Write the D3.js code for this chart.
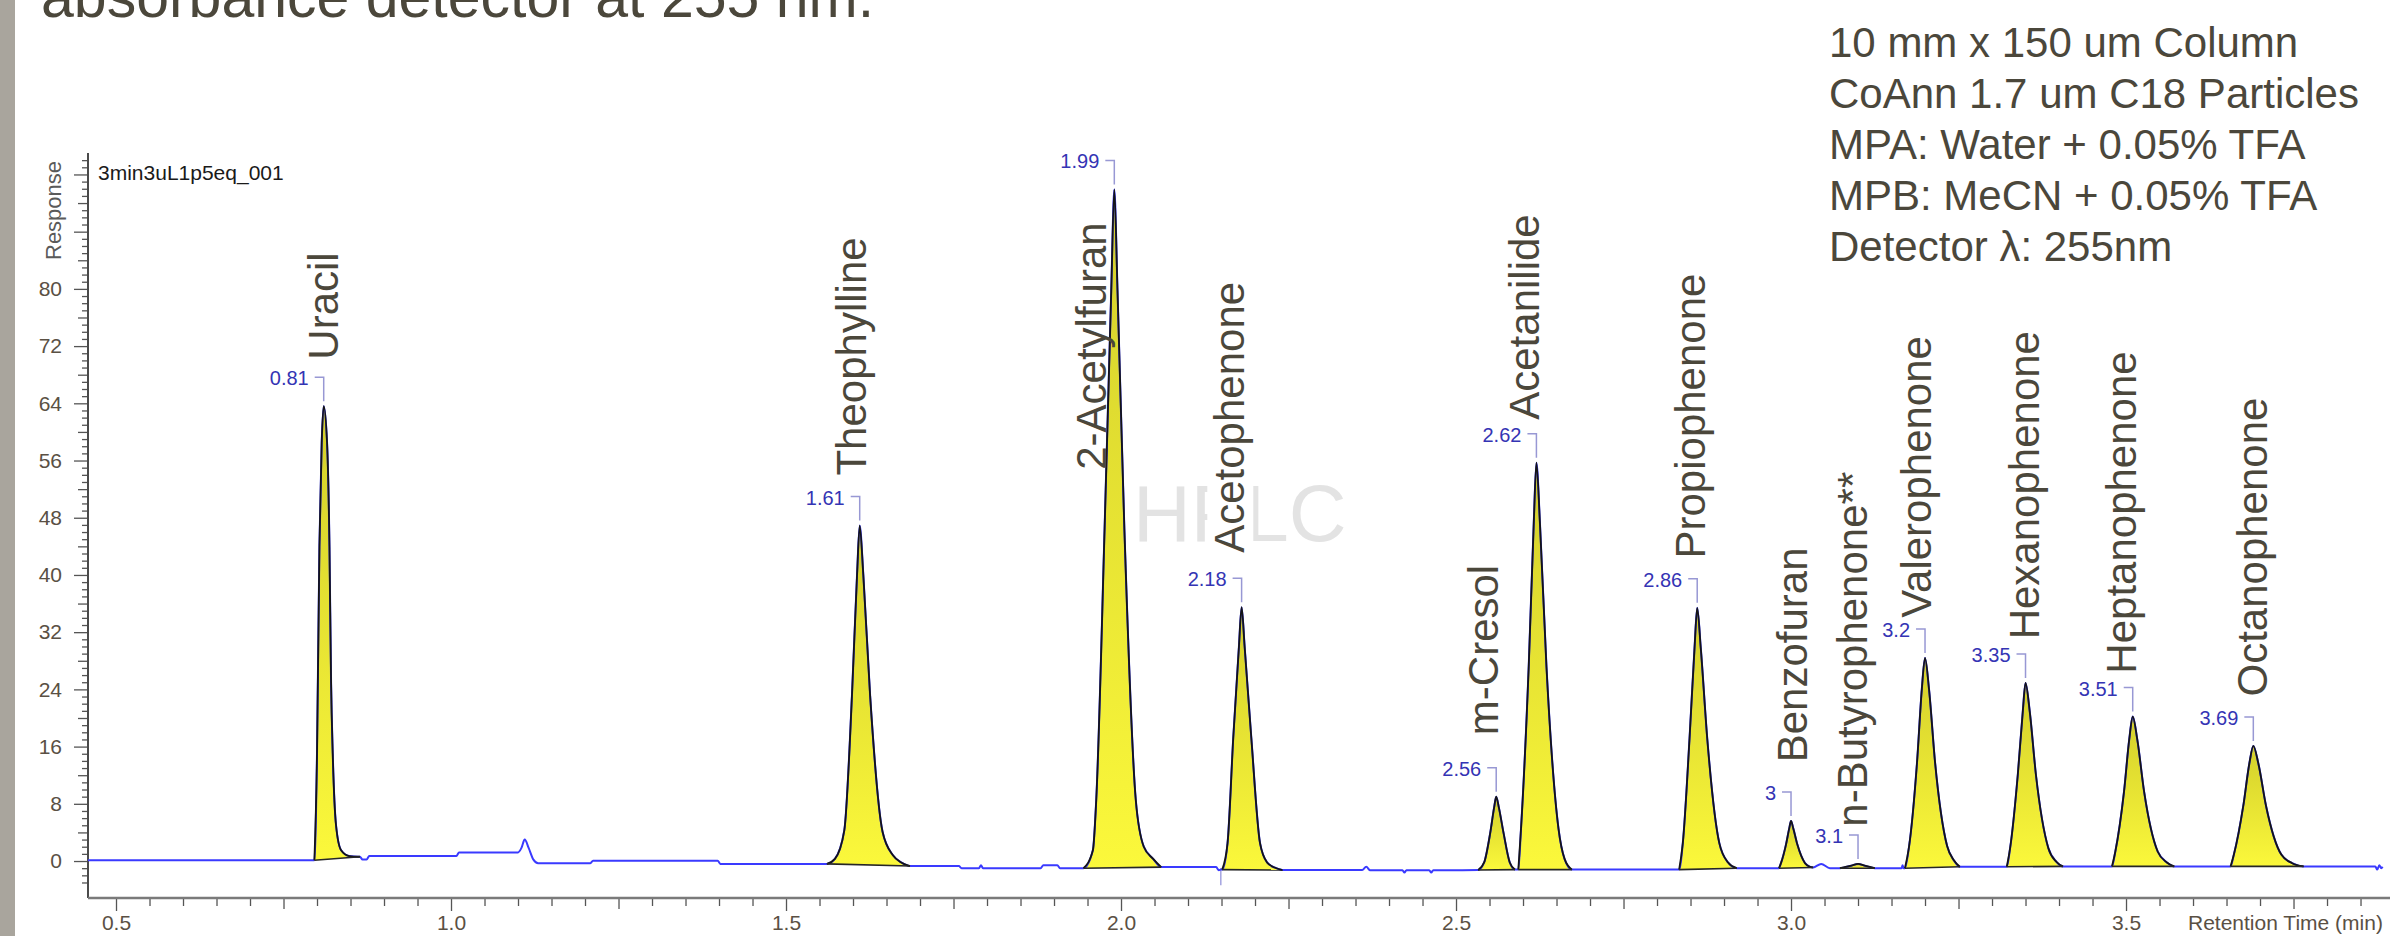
<!DOCTYPE html>
<html>
<head>
<meta charset="utf-8">
<script src="https://cdn.jsdelivr.net/npm/d3@7"></script>
<style>
  html, body { margin: 0; padding: 0; background: #ffffff; }
  svg { display: block; }
  text { font-family: "Liberation Sans", Arial, Helvetica, sans-serif; }
</style>
</head>
<body>
<svg id="chart" width="2390" height="936"></svg>
<script>
// ---- Peak table (retention time in min, response at apex) ----
const compounds = ["Uracil", "Theophylline", "2-Acetylfuran", "Acetophenone", "m-Cresol",
  "Acetanilide", "Propiophenone", "Benzofuran", "n-Butyrophenone**", "Valerophenone",
  "Hexanophenone", "Heptanophenone", "Octanophenone"];
const retentionTimes = [0.81, 1.61, 1.99, 2.18, 2.56, 2.62, 2.86, 3, 3.1, 3.2, 3.35, 3.51, 3.69];
const apexResponse  = [63.6, 46.9, 93.9, 35.5, 9.0, 55.7, 35.4, 5.6, -0.4, 28.4, 24.9, 20.2, 16.1];

// ---- Detector trace: baseline stretches between the peaks [time, response] ----
const baselinePoints = [
  [0.4582, 0.1], [0.70, 0.1],
  [0.868, 0.2], [0.874, 0.2], [0.878, 0.7], [1.008, 0.7], [1.012, 1.2], [1.100, 1.2],
  [1.105, 1.8], [1.110, 3.0], [1.116, 1.8], [1.123, 0.2], [1.130, -0.3], [1.208, -0.3],
  [1.212, 0.05], [1.398, 0.05], [1.402, -0.4],
  [1.758, -0.7], [1.762, -1.0], [1.788, -1.0], [1.791, -0.6], [1.794, -1.0], [1.880, -1.0],
  [1.884, -0.6], [1.905, -0.6], [1.909, -1.0],
  [2.142, -0.85], [2.146, -1.3], [2.149, -1.2],
  [2.360, -1.26], [2.366, -0.8], [2.372, -1.3], [2.420, -1.3], [2.423, -1.6], [2.426, -1.3],
  [2.460, -1.3], [2.463, -1.6], [2.466, -1.3],
  [3.045, -0.4], [3.058, -1.0],
  [3.165, -1.0], [3.1665, -0.6], [3.168, -1.0],
  [3.872, -0.75], [3.875, -1.2], [3.878, -0.6], [3.881, -1.0], [3.883, -0.8]
];

// ---- Detector trace across each integrated peak [time, response];
//      first and last points are the integration start and end ----
const peakProfiles = [
  [[0.7961, 0.1], [0.8000, 15], [0.8036, 44], [0.8070, 58.5], [0.8100, 63.6], [0.8150, 58.5],
   [0.8186, 44], [0.8210, 25], [0.8235, 15], [0.8284, 5], [0.836, 1.5], [0.848, 0.7], [0.864, 0.6]],
  [[1.561, -0.4], [1.573, 0.3], [1.587, 4.3], [1.5985, 23.3], [1.606, 40.0], [1.61, 46.9],
   [1.6154, 40.0], [1.6255, 23.2], [1.6441, 4.1], [1.6596, 0.8], [1.672, -0.2], [1.685, -0.7]],
  [[1.944, -1.0], [1.958, 1.5], [1.963, 8.5], [1.9755, 46.5], [1.9854, 79.7], [1.99, 93.9],
   [1.9948, 79.7], [2.005, 46.5], [2.022, 8.6], [2.034, 2.0], [2.048, 0.3], [2.06, -0.85]],
  [[2.151, -1.2], [2.159, 2.5], [2.1675, 17.2], [2.176, 30], [2.18, 35.5], [2.1845, 30],
   [2.1945, 17.2], [2.2075, 2.5], [2.218, -0.2], [2.229, -0.9], [2.241, -1.26]],
  [[2.533, -1.26], [2.542, -0.2], [2.551, 3.9], [2.5569, 7.5], [2.56, 9.0], [2.5639, 7.5],
   [2.571, 3.9], [2.5802, -0.2], [2.588, -1.2]],
  [[2.593, -1.2], [2.597, 4.5], [2.6085, 27.2], [2.616, 47.2], [2.62, 55.7], [2.6253, 47.2],
   [2.635, 27.2], [2.653, 4.5], [2.662, 0.3], [2.673, -1.2]],
  [[2.833, -1.2], [2.8385, 2.5], [2.8485, 17.1], [2.856, 29.8], [2.86, 35.4], [2.8653, 29.8],
   [2.875, 17.1], [2.893, 2.5], [2.906, -0.2], [2.919, -1.0]],
  [[2.982, -1.0], [2.985, -0.3], [2.9925, 2.3], [2.9974, 4.6], [3.0, 5.6], [3.0033, 4.6],
   [3.0095, 2.3], [3.0209, -0.3], [3.028, -0.8], [3.033, -0.9]],
  [[3.073, -1.0], [3.09, -0.65], [3.1, -0.4], [3.11, -0.65], [3.125, -1.0]],
  [[3.17, -1.0], [3.176, 1.9], [3.188, 13.7], [3.1952, 24], [3.2, 28.4], [3.206, 24],
   [3.215, 13.8], [3.233, 2.1], [3.243, 0.1], [3.252, -0.8]],
  [[3.322, -0.8], [3.327, 1.8], [3.3385, 12.1], [3.346, 21], [3.35, 24.9], [3.3562, 21],
   [3.3655, 12.1], [3.3841, 1.8], [3.396, -0.1], [3.406, -0.75]],
  [[3.479, -0.75], [3.484, 1.3], [3.497, 9.7], [3.5048, 17], [3.51, 20.2], [3.5168, 17],
   [3.527, 9.7], [3.5474, 1.3], [3.561, -0.2], [3.572, -0.75]],
  [[3.656, -0.75], [3.661, 0.9], [3.675, 7.7], [3.684, 13.6], [3.69, 16.1], [3.6976, 13.6],
   [3.709, 7.7], [3.7318, 0.9], [3.748, -0.3], [3.765, -0.75]]
];

// event mark on the time axis (min)
const eventMarks = [2.149];

// where each compound name sits: [time at text baseline, response at text start]
const nameAnchors = [
  [0.831, 70.1], [1.619, 53.9], [1.978, 54.7], [2.184, 43.1], [2.563, 17.6], [2.624, 61.7],
  [2.872, 42.3], [3.024, 13.8], [3.113, 4.8], [3.209, 34.0], [3.370, 31.0], [3.515, 26.2], [3.711, 23.0]
];

// axis ticks
const yTickLabels = [0, 8, 16, 24, 32, 40, 48, 56, 64, 72, 80];
const xTickLabels = [0.5, 1.0, 1.5, 2.0, 2.5, 3.0, 3.5];

const runName = "3min3uL1p5eq_001";
const yTitle = "Response";
const xTitle = "Retention Time (min)";
const watermark = "HPLC";
const headline = "absorbance detector at 255 nm.";
const conditions = [
  "10 mm x 150 um Column",
  "CoAnn 1.7 um C18 Particles",
  "MPA: Water + 0.05% TFA",
  "MPB: MeCN + 0.05% TFA",
  "Detector \u03bb: 255nm"
];

// ---------------------------------------------------------------
const svg = d3.select("#chart");
const W = 2390, H = 936;

const x = d3.scaleLinear().domain([0.4582, 3.8940]).range([88, 2390]);
const y = d3.scaleLinear().domain([-5.17, 99.0]).range([898, 153]);

const textDark = "#4b473b";
const axisText = "#5a5044";

svg.append("rect").attr("width", W).attr("height", H).attr("fill", "#ffffff");
// slide edge strip
svg.append("rect").attr("x", 0).attr("y", 0).attr("width", 15).attr("height", H).attr("fill", "#a9a59d");

// headline (runs off the top of the slide)
svg.append("text").attr("x", 41).attr("y", 17)
  .attr("font-size", 59).attr("fill", textDark).text(headline);

// conditions block
svg.append("g").selectAll("text").data(conditions).join("text")
  .attr("x", 1829).attr("y", (d, i) => 57 + i * 51)
  .attr("font-size", 42).attr("fill", textDark).text(d => d);

// watermark
svg.append("text").attr("x", 1133).attr("y", y(44.7))
  .attr("font-size", 80).attr("fill", "#e3e3e3").text(watermark);

// ---- axes ----
const yAxisG = svg.append("g").attr("transform", `translate(${x.range()[0]},0)`);
const minorY = d3.range(-3, 99, 1);
yAxisG.append("g").call(d3.axisLeft(y).tickValues(minorY.filter(v => v % 4 !== 0)).tickSize(6).tickFormat(""))
  .call(g => g.select(".domain").remove());
yAxisG.append("g").call(d3.axisLeft(y).tickValues(minorY.filter(v => v % 4 === 0 && v % 8 !== 0)).tickSize(10).tickFormat(""))
  .call(g => g.select(".domain").remove());
yAxisG.append("g").call(d3.axisLeft(y).tickValues([...yTickLabels, 88, 96]).tickSize(14)
    .tickFormat(d => yTickLabels.includes(d) ? d : ""))
  .call(g => g.select(".domain").remove())
  .call(g => g.selectAll("text").attr("x", -26).attr("font-size", 21).attr("fill", axisText));
yAxisG.selectAll(".tick line").attr("stroke", "#555").attr("stroke-width", 1.3);
yAxisG.append("line").attr("x1", 0).attr("x2", 0).attr("y1", y.range()[1]).attr("y2", y.range()[0])
  .attr("stroke", "#4a4a4a").attr("stroke-width", 2);

const xAxisG = svg.append("g").attr("transform", `translate(0,${y.range()[0]})`);
const minorX = d3.range(10, 78).map(k => k / 20);
xAxisG.append("g").call(d3.axisBottom(x).tickValues(minorX.filter(v => Math.round(v * 20) % 5 !== 0)).tickSize(8).tickFormat(""))
  .call(g => g.select(".domain").remove());
xAxisG.append("g").call(d3.axisBottom(x).tickValues(minorX.filter(v => Math.round(v * 20) % 5 === 0 && Math.round(v * 20) % 10 !== 0)).tickSize(11).tickFormat(""))
  .call(g => g.select(".domain").remove());
xAxisG.append("g").call(d3.axisBottom(x).tickValues(xTickLabels).tickSize(13).tickFormat(d3.format(".1f")))
  .call(g => g.select(".domain").remove())
  .call(g => g.selectAll("text").attr("y", 17).attr("font-size", 21).attr("fill", axisText));
xAxisG.selectAll(".tick line").attr("stroke", "#555").attr("stroke-width", 1.3);
xAxisG.append("line").attr("x1", x.range()[0]).attr("x2", W).attr("y1", 0).attr("y2", 0)
  .attr("stroke", "#7a7a7a").attr("stroke-width", 2.5);

svg.append("text").attr("x", 2188).attr("y", 930).attr("font-size", 21).attr("fill", axisText).text(xTitle);

svg.append("text").attr("transform", `translate(61,260) rotate(-90)`)
  .attr("font-size", 22).attr("fill", "#5a5a5a").text(yTitle);

svg.append("text").attr("x", 98).attr("y", 180).attr("font-size", 21).attr("fill", "#1a1a1a").text(runName);

// ---- trace and peaks ----
const trace = baselinePoints.concat(...peakProfiles).sort((a, b) => a[0] - b[0]);
const line = d3.line().x(d => x(d[0])).y(d => y(d[1])).curve(d3.curveMonotoneX);

const defs = svg.append("defs");
const grad = defs.append("linearGradient").attr("id", "peakFill")
  .attr("x1", 0).attr("y1", 0).attr("x2", 0).attr("y2", 1);
grad.append("stop").attr("offset", "0%").attr("stop-color", "#d3cf2b");
grad.append("stop").attr("offset", "100%").attr("stop-color", "#fbf83b");

// event marks
svg.append("g").selectAll("line").data(eventMarks).join("line")
  .attr("x1", d => x(d)).attr("x2", d => x(d))
  .attr("y1", y(-1.0)).attr("y2", y(-3.4))
  .attr("stroke", "#8c8cd8").attr("stroke-width", 1.2);

const peakG = svg.append("g");
peakProfiles.forEach(pts => {
  const [t0, v0] = pts[0];
  const [t1, v1] = pts[pts.length - 1];
  const baseAt = t => v0 + (v1 - v0) * (t - t0) / (t1 - t0);
  const area = d3.area().x(d => x(d[0])).y1(d => y(d[1])).y0(d => y(baseAt(d[0]))).curve(d3.curveMonotoneX);
  peakG.append("path").attr("d", area(pts)).attr("fill", "url(#peakFill)");
});

svg.append("path").attr("d", line(trace)).attr("fill", "none")
  .attr("stroke", "#3a3aff").attr("stroke-width", 2);

const outlineG = svg.append("g");
peakProfiles.forEach(pts => {
  outlineG.append("path").attr("d", line(pts)).attr("fill", "none")
    .attr("stroke", "#141414").attr("stroke-width", 1.8).attr("stroke-linejoin", "round");
  const a = pts[0], b = pts[pts.length - 1];
  outlineG.append("line").attr("x1", x(a[0])).attr("y1", y(a[1])).attr("x2", x(b[0])).attr("y2", y(b[1]))
    .attr("stroke", "#262626").attr("stroke-width", 1.6);
});

// retention time callouts
const rtG = svg.append("g");
retentionTimes.forEach((rt, i) => {
  const px = x(rt), py = y(apexResponse[i]);
  rtG.append("path").attr("d", `M${px - 9},${py - 29}H${px}V${py - 5}`)
    .attr("fill", "none").attr("stroke", "#9898d4").attr("stroke-width", 1.5);
  rtG.append("text").attr("x", px - 15).attr("y", py - 21).attr("text-anchor", "end")
    .attr("font-size", 20).attr("fill", "#3434b4").text(String(rt));
});

// compound names (the Acetophenone box is opaque over the watermark)
const nameG = svg.append("g");
compounds.forEach((name, i) => {
  const [ta, va] = nameAnchors[i];
  const g = nameG.append("g").attr("transform", `translate(${x(ta)},${y(va)}) rotate(-90)`);
  const t = g.append("text").attr("x", 0).attr("y", 0).attr("font-size", 42).attr("fill", textDark).text(name);
  if (name === "Acetophenone") {
    const bb = t.node().getBBox();
    g.insert("rect", "text").attr("x", bb.x - 6).attr("y", bb.y + 1).attr("width", bb.width + 12)
      .attr("height", bb.height - 1).attr("fill", "#ffffff");
  }
});
</script>
</body>
</html>
